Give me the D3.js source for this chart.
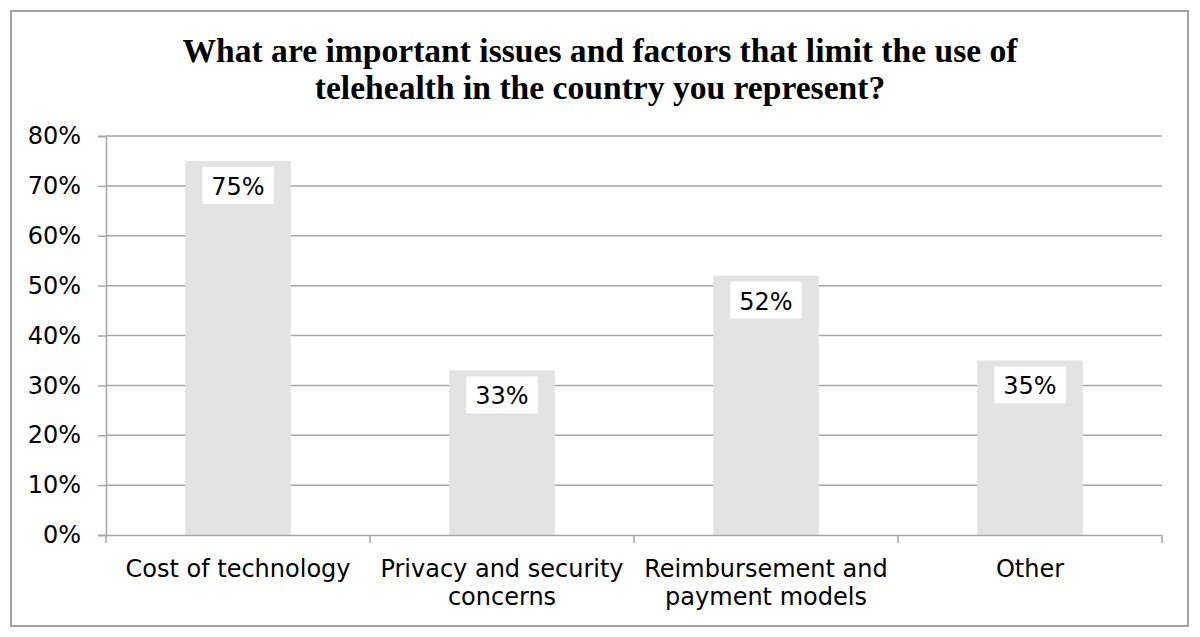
<!DOCTYPE html>
<html>
<head>
<meta charset="utf-8">
<script src="https://cdn.jsdelivr.net/npm/d3@7"></script>
<style>
  html, body { margin: 0; padding: 0; background: #fff; }
  svg { display: block; }
</style>
</head>
<body>
<svg id="chart" width="1200" height="637"></svg>
<script>
const titleLines = ["What are important issues and factors that limit the use of", "telehealth in the country you represent?"];
const categories = ["Cost of technology", "Privacy and security concerns", "Reimbursement and payment models", "Other"];
const categoryLines = [["Cost of technology"], ["Privacy and security", "concerns"], ["Reimbursement and", "payment models"], ["Other"]];
const values = [0.75, 0.33, 0.52, 0.35];
const yTicks = [0, 0.1, 0.2, 0.3, 0.4, 0.5, 0.6, 0.7, 0.8];

const svg = d3.select("#chart");
const margin = { left: 106, right: 1162, top: 136, bottom: 535 };
const gridColor = "#a6a6a6";
const labelFont = "'DejaVu Sans', Verdana, sans-serif";
const fs = 24;

// outer border
svg.append("rect").attr("x", 11).attr("y", 11).attr("width", 1177).attr("height", 615)
  .attr("fill", "#fff").attr("stroke", "#a3a3a3").attr("stroke-width", 2);

// title
const title = svg.append("text").attr("text-anchor", "middle")
  .attr("font-family", "'Liberation Serif', 'Times New Roman', serif")
  .attr("font-weight", "bold").attr("font-size", 33.6).attr("fill", "#000");
titleLines.forEach((t, i) => title.append("tspan").attr("x", 600).attr("y", 62 + i * 36.5).text(t));

const x = d3.scaleBand().domain(categories).range([margin.left, margin.right]).padding(0);
const y = d3.scaleLinear().domain([0, 0.8]).range([margin.bottom, margin.top]);

// gridlines
svg.append("g").selectAll("line").data(yTicks.filter(d => d > 0)).join("line")
  .attr("x1", margin.left).attr("x2", margin.right)
  .attr("y1", d => y(d)).attr("y2", d => y(d))
  .attr("stroke", gridColor).attr("stroke-width", 1.5);

// bars
const barW = x.bandwidth() * 0.4;
svg.append("g").selectAll("rect").data(values).join("rect")
  .attr("x", (d, i) => x(categories[i]) + (x.bandwidth() - barW) / 2)
  .attr("y", d => y(d))
  .attr("width", barW)
  .attr("height", d => y(0) - y(d))
  .attr("fill", "#e3e3e3");

// y axis
const yAxis = svg.append("g").attr("transform", `translate(${margin.left},0)`)
  .call(d3.axisLeft(y).tickValues(yTicks).tickFormat(d3.format(".0%")).tickSize(8).tickPadding(17));
yAxis.select(".domain").attr("stroke", gridColor).attr("stroke-width", 1.5);
yAxis.selectAll(".tick line").attr("stroke", gridColor).attr("stroke-width", 1.5);
yAxis.selectAll(".tick text").attr("font-family", labelFont).attr("font-size", fs).attr("fill", "#000");

// x axis
const xAxis = svg.append("g").attr("transform", `translate(0,${margin.bottom})`)
  .call(d3.axisBottom(x).tickSize(0).tickFormat(""));
xAxis.select(".domain").attr("stroke", gridColor).attr("stroke-width", 1.5);
xAxis.selectAll(".tick").remove();
const boundaries = categories.map(c => x(c)).concat([x.range()[1]]);
xAxis.selectAll("line.bt").data(boundaries).join("line").attr("class", "bt")
  .attr("x1", d => d).attr("x2", d => d).attr("y1", 0).attr("y2", 8)
  .attr("stroke", gridColor).attr("stroke-width", 1.5);

// category labels
categoryLines.forEach((lines, i) => {
  const t = svg.append("text").attr("text-anchor", "middle")
    .attr("font-family", labelFont).attr("font-size", fs).attr("fill", "#000");
  lines.forEach((l, j) => t.append("tspan")
    .attr("x", x(categories[i]) + x.bandwidth() / 2)
    .attr("y", 577 + j * 28).text(l));
});

// data labels
const lab = svg.append("g");
values.forEach((v, i) => {
  const cx = x(categories[i]) + x.bandwidth() / 2;
  const top = y(v);
  const txt = d3.format(".0%")(v);
  const g = lab.append("g");
  const t = g.append("text").attr("text-anchor", "middle")
    .attr("font-family", labelFont).attr("font-size", fs).attr("fill", "#000")
    .attr("x", cx).attr("y", top + 34).text(txt);
  const w = t.node().getComputedTextLength() + 18;
  g.insert("rect", "text").attr("x", cx - w / 2).attr("y", top + 6)
    .attr("width", w).attr("height", 37).attr("fill", "#fff");
});
</script>
</body>
</html>
